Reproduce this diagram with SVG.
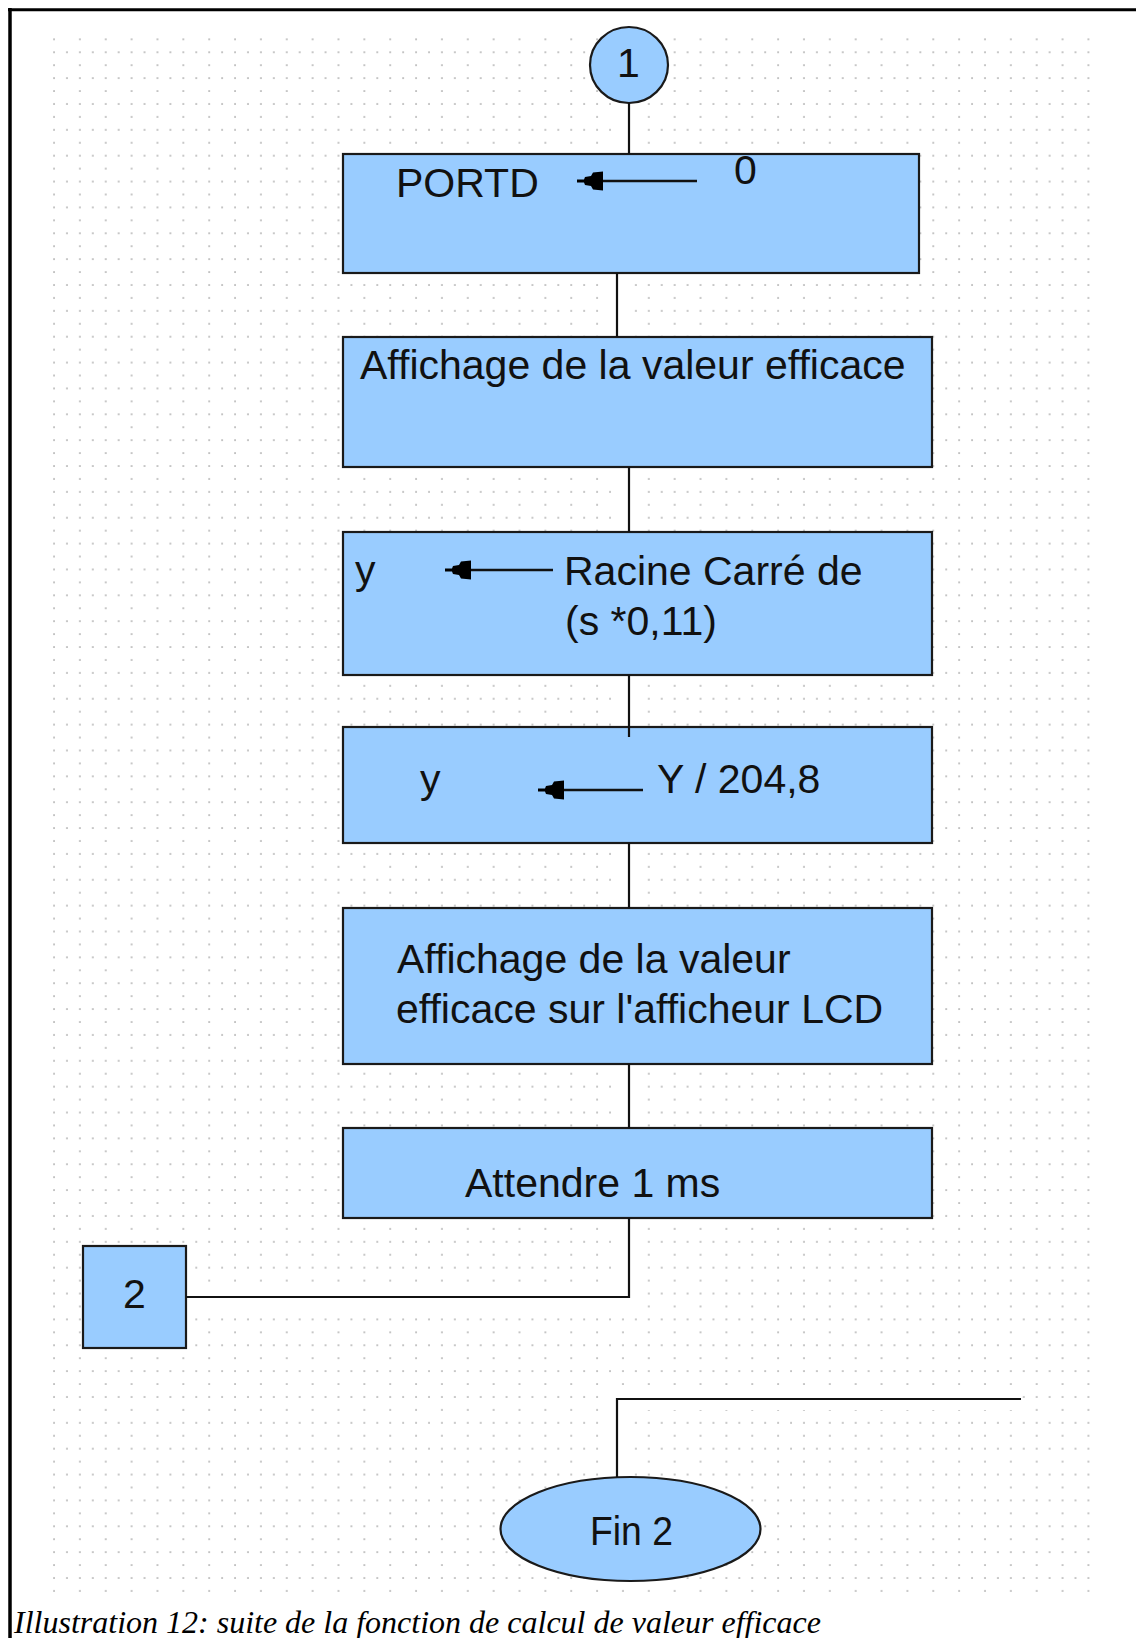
<svg xmlns="http://www.w3.org/2000/svg" xmlns:xlink="http://www.w3.org/1999/xlink" width="1136" height="1638" viewBox="0 0 1136 1638">
<style>
.box{fill:#99ccff;stroke:#1a1a1a;stroke-width:2.2}
.lbl{font-family:"Liberation Sans",Arial,sans-serif;font-size:41px;fill:#111}
.cap{font-family:"Liberation Serif","Times New Roman",serif;font-style:italic;font-size:32px;fill:#000}
.wire{fill:none;stroke:#111;stroke-width:2.2}
.halo{fill:none;stroke:#fff;stroke-width:22}
.arr{stroke:#111;stroke-width:2.4}
</style>
<defs>
<pattern id="grid" patternUnits="userSpaceOnUse" x="53" y="38.3" width="25.86" height="25.86">
<rect x="0.2" y="0.2" width="1.7" height="1.7" fill="#b4b4b4"/>
<rect x="0.2" y="13.13" width="1.7" height="1.7" fill="#b4b4b4"/>
<rect x="13.13" y="13.13" width="1.7" height="1.7" fill="#b4b4b4"/>
</pattern>
<path id="ah" d="M0,-1.6 L7,-1.6 L8,-4 L14,-5 L16,-8.5 L26,-9.5 L26,9.5 L16,8.5 L14,5 L8,4 L7,1.6 L0,1.6 Z" fill="#000"/>
</defs>
<rect width="1136" height="1638" fill="#fff"/>
<rect x="52" y="37" width="1040" height="1560" fill="url(#grid)"/>
<g id="frame">
<line x1="8" y1="9.7" x2="1136" y2="9.7" stroke="#000" stroke-width="3"/>
<line x1="10" y1="8" x2="10" y2="1638" stroke="#000" stroke-width="3.5"/>
</g>
<g id="halos">
<path class="halo" d="M629,103 V154 M617,273 V337 M629,467 V532 M629,675 V727 M629,843 V908 M629,1064 V1128 M629,1218 V1297 H186 M617,1477 V1399 H1021"/>
</g>
<g id="n-start">
<ellipse cx="629" cy="65" rx="39" ry="38" class="box"/>
<text class="lbl" x="617" y="77">1</text>
</g>
<g id="n-portd">
<rect x="343" y="154" width="576" height="119" class="box"/>
<text class="lbl" x="396" y="197">PORTD</text>
<text class="lbl" x="734" y="184">0</text>
<line class="arr" x1="590" y1="181" x2="697" y2="181"/>
<use xlink:href="#ah" x="577" y="181"/>
</g>
<g id="n-aff1">
<rect x="343" y="337" width="589" height="130" class="box"/>
<text class="lbl" x="360" y="379">Affichage de la valeur efficace</text>
</g>
<g id="n-racine">
<rect x="343" y="532" width="589" height="143" class="box"/>
<text class="lbl" x="355" y="584">y</text>
<text class="lbl" x="564" y="585">Racine Carré de</text>
<text class="lbl" x="565" y="635">(s *0,11)</text>
<line class="arr" x1="460" y1="570" x2="553" y2="570"/>
<use xlink:href="#ah" x="445" y="570"/>
</g>
<g id="n-div">
<rect x="343" y="727" width="589" height="116" class="box"/>
<text class="lbl" x="420" y="793">y</text>
<text class="lbl" x="657" y="793">Y / 204,8</text>
<line class="arr" x1="550" y1="790" x2="643" y2="790"/>
<use xlink:href="#ah" x="538" y="790"/>
</g>
<g id="n-lcd">
<rect x="343" y="908" width="589" height="156" class="box"/>
<text class="lbl" x="397" y="973">Affichage de la valeur</text>
<text class="lbl" x="396" y="1023">efficace sur l'afficheur LCD</text>
</g>
<g id="n-wait">
<rect x="343" y="1128" width="589" height="90" class="box"/>
<text class="lbl" x="465" y="1197">Attendre 1 ms</text>
</g>
<g id="n-goto2">
<rect x="83" y="1246" width="103" height="102" class="box"/>
<text class="lbl" x="134.5" y="1308" text-anchor="middle">2</text>
</g>
<g id="n-fin2">
<ellipse cx="630.5" cy="1529" rx="130" ry="52" class="box"/>
<text class="lbl" x="590" y="1545" textLength="83" lengthAdjust="spacingAndGlyphs">Fin 2</text>
</g>
<g id="connectors">
<path class="wire" d="M629,103 V154"/>
<path class="wire" d="M617,273 V337"/>
<path class="wire" d="M629,467 V532"/>
<path class="wire" d="M629,675 V737"/>
<path class="wire" d="M629,843 V908"/>
<path class="wire" d="M629,1064 V1128"/>
<path class="wire" d="M629,1218 V1297 H186"/>
<path class="wire" d="M617,1477 V1399 H1021"/>
</g>
<text class="cap" x="14" y="1633">Illustration 12: suite de la fonction de calcul de valeur efficace</text>
</svg>
